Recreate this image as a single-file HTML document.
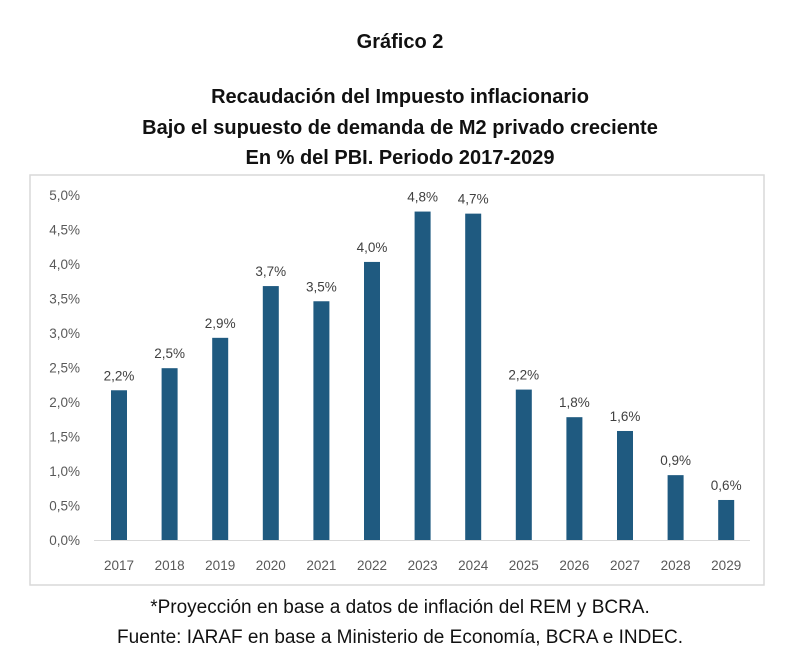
<!DOCTYPE html>
<html><head><meta charset="utf-8"><style>
body{margin:0;background:#fff;width:800px;height:667px;overflow:hidden;font-family:"Liberation Sans",sans-serif}
.t{position:absolute;left:0;width:800px;text-align:center;font-weight:bold;color:#111;font-size:20px}
.f{position:absolute;left:0;width:800px;text-align:center;color:#111;font-size:19px}
</style></head><body>
<div class="t" style="top:31px">Gráfico 2</div>
<div class="t" style="top:82px;line-height:30.5px">Recaudación del Impuesto inflacionario<br>Bajo el supuesto de demanda de M2 privado creciente<br>En % del PBI. Periodo 2017-2029</div>
<svg id="c" width="800" height="667" style="position:absolute;left:0;top:0" font-family="Liberation Sans, sans-serif"></svg>
<div class="f" style="top:597px">*Proyección en base a datos de inflación del REM y BCRA.</div>
<div class="f" style="top:627px">Fuente: IARAF en base a Ministerio de Economía, BCRA e INDEC.</div>
<script>
const categories=["2017","2018","2019","2020","2021","2022","2023","2024","2025","2026","2027","2028","2029"];
const values=[2.17,2.49,2.93,3.68,3.46,4.03,4.76,4.73,2.18,1.78,1.58,0.94,0.58];
const valueLabels=["2,2%","2,5%","2,9%","3,7%","3,5%","4,0%","4,8%","4,7%","2,2%","1,8%","1,6%","0,9%","0,6%"];
const yTicks=[0,0.5,1,1.5,2,2.5,3,3.5,4,4.5,5];
const yTickLabels=["0,0%","0,5%","1,0%","1,5%","2,0%","2,5%","3,0%","3,5%","4,0%","4,5%","5,0%"];
const svg=document.getElementById('c');const NS='http://www.w3.org/2000/svg';
function mk(t,a,txt){const e=document.createElementNS(NS,t);for(const k in a)e.setAttribute(k,a[k]);if(txt!=null)e.textContent=txt;svg.appendChild(e);return e;}
const y=v=>540-v*69;const x=i=>119+i*50.6;
let e=mk('rect',{x:30,y:175,width:734,height:410,fill:'none',stroke:'#d9d9d9','stroke-width':1.5});


yTicks.forEach((v,i)=>{const t=mk('text',{x:80,y:y(v)+5,'text-anchor':'end','font-size':13.5,fill:'#595959'},yTickLabels[i]);

});
e=mk('line',{x1:94,x2:750,y1:540.5,y2:540.5,stroke:'#d9d9d9','stroke-width':1});


categories.forEach((c,i)=>{
const b=mk('rect',{x:x(i)-8,y:y(values[i]),width:16,height:540-y(values[i]),fill:'#1f5a80'});


const l=mk('text',{x:x(i),y:y(values[i])-10,'text-anchor':'middle','font-size':13.5,fill:'#404040'},valueLabels[i]);


const k=mk('text',{x:x(i),y:570,'text-anchor':'middle','font-size':13.5,fill:'#595959'},c);

});
</script>
</body></html>
